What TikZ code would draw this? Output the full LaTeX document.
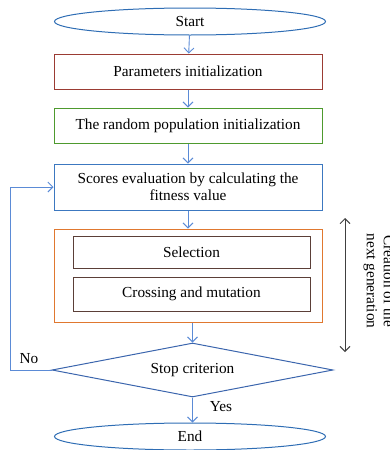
\documentclass[tikz,border=0pt]{standalone}
\usepackage{fontspec}
\setmainfont{Liberation Serif}
\usetikzlibrary{shapes.geometric,arrows.meta}
\definecolor{arrblue}{HTML}{5B8BD6}
\definecolor{ellblue}{HTML}{2E6DB4}
\definecolor{parred}{HTML}{9B3B33}
\definecolor{popgreen}{HTML}{4E9A2E}
\definecolor{scoblue}{HTML}{3C78C0}
\definecolor{genorange}{HTML}{E0782F}
\definecolor{innerbrown}{HTML}{5B3F38}
\definecolor{diablue}{HTML}{3B65AD}
\definecolor{gengray}{HTML}{404040}
\begin{document}
\begin{tikzpicture}[x=1pt,y=-1pt,
  every node/.style={font=\fontsize{15.3}{17}\selectfont, text=black},
  flow/.style={draw=arrblue, line width=0.9pt, -{Straight Barb[length=5pt,width=10pt]}},
  term/.style={ellipse, draw=ellblue, line width=1pt, minimum width=271pt, minimum height=27pt, inner sep=0pt},
  procbox/.style={rectangle, line width=1pt, minimum width=268pt, inner sep=0pt, align=center},
  innerbox/.style={rectangle, draw=innerbrown, line width=1pt, minimum width=237pt, inner sep=0pt},
  lbl/.style={inner sep=0pt}]
\useasboundingbox (0,0) rectangle (390,450);
\node[term] (start) at (190,21.5) {Start};
\node[procbox, draw=parred, minimum height=35pt] (param) at (188,71.5) {Parameters initialization};
\node[procbox, draw=popgreen, minimum height=35pt] (pop) at (188,125.5) {The random population initialization};
\node[procbox, draw=scoblue, minimum height=46pt] (score) at (188,187) {Scores evaluation by calculating the\\fitness value};
\node[procbox, draw=genorange, minimum height=93pt] (gen) at (188,275.5) {};
\node[innerbox, minimum height=32pt] (sel) at (191.5,252) {Selection};
\node[innerbox, minimum height=34pt] (cross) at (191.5,294) {Crossing and mutation};
\node[diamond, draw=diablue, line width=1pt, minimum width=281pt, minimum height=54pt, aspect=5.2, inner sep=0pt] (stop) at (192.5,370) {Stop criterion};
\node[term] (end) at (190,436.5) {End};
\draw[flow] (start) -- (param);
\draw[flow] (param) -- (pop);
\draw[flow] (pop) -- (score);
\draw[flow] (score) -- (gen);
\draw[flow] (gen.south -| stop.north) -- (stop.north);
\draw[flow] (stop.south) -- (stop.south |- end.north);
\draw[flow] (stop.west) -- (10,370) |- (score.west);
\node[lbl] (no) at (29,359) {No};
\node[lbl] (yes) at (221,407) {Yes};
\coordinate (gtop) at (345,218);
\coordinate (gbot) at (345,352);
\draw[gengray, line width=0.9pt, {Straight Barb[length=5pt,width=10pt]}-{Straight Barb[length=5pt,width=10pt]}] (gtop) -- (gbot);
\node[rotate=-90, align=center] (gentext) at (379,281) {Creation of the\\next generation};
\end{tikzpicture}
\end{document}
